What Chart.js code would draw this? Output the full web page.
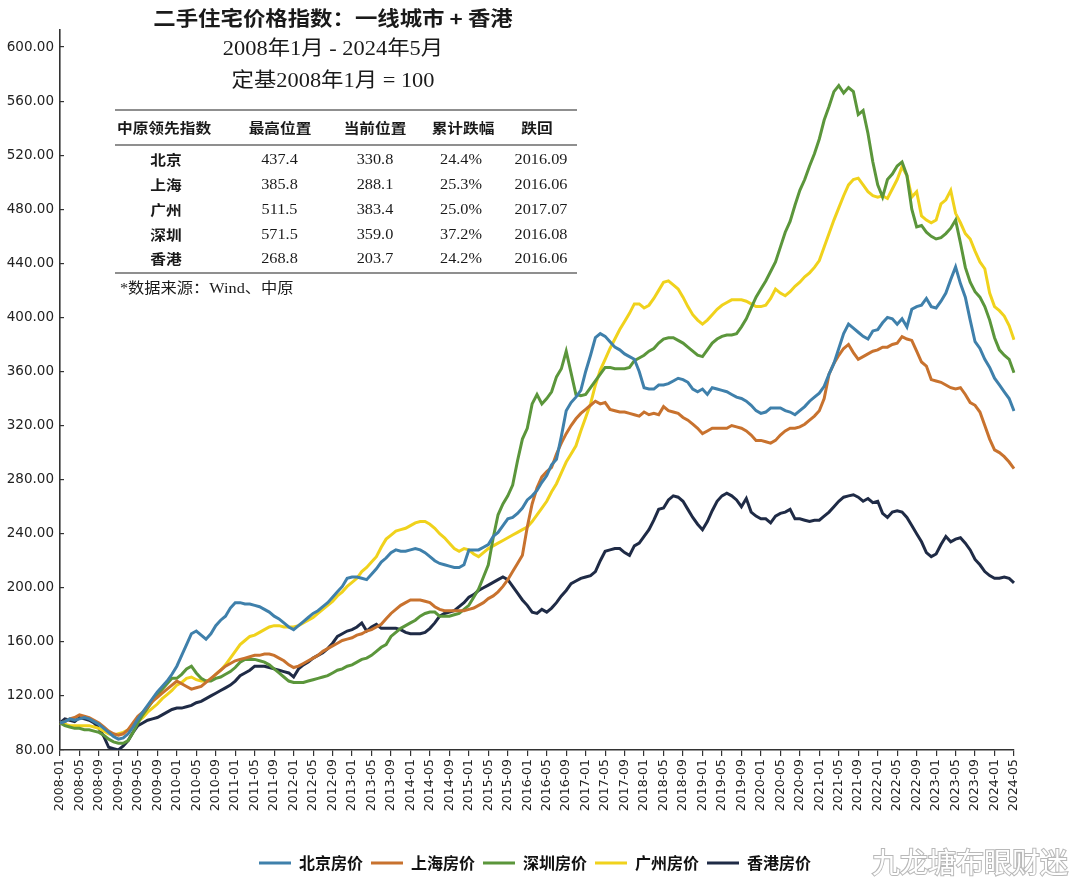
<!DOCTYPE html>
<html><head><meta charset="utf-8">
<script src="https://cdn.jsdelivr.net/npm/chart.js@4.4.1/dist/chart.umd.min.js"></script>
<style>html,body{margin:0;padding:0;background:#fff}#wrap{position:relative;width:1080px;height:885px}</style>
</head><body><div id="wrap"><canvas id="c" width="1080" height="885"></canvas></div>
<script>
// ---- categories (monthly, 2008-01 .. 2024-05) ----
const months = [];
for (let y = 2008; y <= 2024; y++) {
  for (let m = 1; m <= 12; m++) {
    if (y === 2024 && m > 5) break;
    months.push(y + '-' + String(m).padStart(2, '0'));
  }
}
const tickLabels = months.filter((_, i) => i % 4 === 0);
const yTicks = [80, 120, 160, 200, 240, 280, 320, 360, 400, 440, 480, 520, 560, 600];

// ---- series values ----
const beijing = [
100,101,103,102,103,104,103,101,99,96,93,90,
88,89,92,97,103,108,113,118,123,127,131,136,
142,150,158,166,168,165,162,166,172,176,179,185,
189,189,188,188,187,186,184,182,179,177,174,171,
169,172,175,178,181,183,186,189,193,197,201,207,
208,208,207,206,210,214,219,222,226,228,227,227,
228,229,228,226,223,220,218,217,216,215,215,217,
228,228,228,230,232,238,241,246,251,252,255,259,
265,268,272,278,283,291,295,312,331,337,341,346,
360,372,385,388,386,382,378,376,373,371,369,360,
348,347,347,350,350,351,353,355,354,352,347,345,
347,343,348,347,346,345,343,341,340,338,335,331,
329,330,333,333,333,331,330,328,331,334,338,341,
344,349,358,366,377,388,395,392,389,386,384,390,
391,396,400,399,395,399,393,406,408,409,414,408,
407,412,418,428,437.4,425,415,398,382,377,369,363,
355,350,345,340,330.8];
const shanghai = [
100,101,103,104,106,105,104,102,100,97,94,92,
91,92,95,100,105,108,112,116,119,122,125,128,
131,129,127,125,126,127,130,133,136,139,142,144,
146,147,148,149,150,150,151,151,150,148,146,143,
141,142,144,146,148,150,153,155,157,159,161,162,
163,165,166,168,169,171,173,177,181,184,187,189,
191,191,191,190,189,186,184,183,183,183,183,183,
184,185,187,189,192,194,197,201,206,212,218,224,
245,262,274,282,286,289,299,307,314,320,325,329,
332,335,338,336,337,332,331,330,330,329,328,327,
330,328,329,328,334,331,330,329,326,324,321,318,
314,316,318,318,318,318,320,319,318,316,313,309,
309,308,307,309,313,316,318,318,319,321,324,327,
331,340,358,366,372,377,380,374,369,371,373,375,
376,378,378,380,381,385.8,384,383,375,367,364,354,
353,352,350,348,347,348,343,337,335,330,320,310,
302,300,297,293,288.1];
const shenzhen = [
100,98,97,96,96,95,95,94,93,91,88,86,
85,85,87,93,100,106,111,116,121,125,129,133,
133,136,140,142,137,133,131,131,133,134,136,138,
141,145,147,147,147,146,145,143,140,137,134,131,
130,130,130,131,132,133,134,135,137,139,140,142,
143,145,147,148,150,153,156,158,164,167,170,172,
174,176,179,181,182,182,179,179,179,180,181,184,
187,193,199,208,217,237,254,262,268,276,294,310,
318,336,343,336,340,345,356,362,375,359,343,342,
343,348,353,358,363,363,362,362,362,363,368,370,
372,375,377,381,384,385,385,383,381,378,375,372,
371,376,381,384,386,387,387,388,393,399,407,415,
421,427,434,441,452,463,471,483,494,502,512,521,
532,546,556,567,571.5,566,570,567,550,553,536,515,
498,489,502,506,512,515,505,480,467,468,463,460,
458,459,462,466,472,455,437,426,419,415,408,398,
385,376,372,369,359];
const guangzhou = [
100,99,98,98,98,98,98,97,96,94,92,91,
92,93,95,98,101,104,108,111,114,118,121,124,
128,130,133,134,132,131,131,132,136,139,143,148,
153,158,161,164,165,167,169,171,172,172,171,171,
171,172,174,176,178,181,184,187,190,194,197,201,
204,207,212,215,219,223,230,236,239,242,243,244,
246,248,249,249,247,244,240,237,233,229,227,229,
228,225,223,226,229,231,233,235,237,239,241,243,
245,249,254,259,264,271,277,285,293,299,305,316,
326,336,350,361,369,377,384,391,397,403,410,410,
407,409,414,420,426,427,424,421,415,408,402,398,
395,398,402,406,409,411,413,413,413,412,410,408,
408,409,414,421,418,416,419,423,426,430,433,437,
442,452,462,472,481,490,498,502,503,498,493,490,
489,490,488,495,502,511.5,505,489,493,475,472,470,
472,484,487,494,477,470,462,458,449,441,436,418,
408,405,401,394,383.4];
const hongkong = [
100,103,102,101,104,103,102,100,96,90,82,81,
80,83,87,93,98,100,102,103,104,106,108,110,
111,111,112,113,115,116,118,120,122,124,126,128,
131,135,137,139,142,142,142,141,140,139,138,137,
134,140,143,145,148,150,152,155,159,164,166,168,
169,171,174,168,171,173,170,170,170,170,169,167,
166,166,166,167,170,174,179,181,182,183,186,189,
193,195,198,200,202,204,206,208,206,201,196,191,
187,182,181,184,182,185,189,194,198,203,205,207,
208,209,212,220,227,228,229,229,226,224,231,233,
238,243,250,258,259,265,268,267,264,258,252,247,
243,249,257,264,268,270,268,265,260,266,256,253,
251,251,248,253,255,256,258,251,251,250,249,250,
250,253,256,260,264,267,268,268.8,267,264,266,263,
264,255,252,256,257,256,252,246,240,234,226,223,
225,232,238,234,236,237,233,228,221,217,212,209,
207,207,208,207,203.7];

const seriesNames = ['北京房价', '上海房价', '深圳房价', '广州房价', '香港房价'];
const seriesColors = ['#3f80ab', '#c8722e', '#5b963b', '#f0d21c', '#1f2b46'];
const seriesData = [beijing, shanghai, shenzhen, guangzhou, hongkong];

// ---- title / table text ----
const titleLines = ['二手住宅价格指数：一线城市 + 香港', '2008年1月 - 2024年5月', '定基2008年1月 = 100'];
const tableHeader = ['中原领先指数', '最高位置', '当前位置', '累计跌幅', '跌回'];
const tableCities = ['北京', '上海', '广州', '深圳', '香港'];
const tablePeak = ['437.4', '385.8', '511.5', '571.5', '268.8'];
const tableNow = ['330.8', '288.1', '383.4', '359.0', '203.7'];
const tableDrop = ['24.4%', '25.3%', '25.0%', '37.2%', '24.2%'];
const tableBack = ['2016.09', '2016.06', '2017.07', '2016.08', '2016.06'];
const footnote = '*数据来源：Wind、中原';
const watermark = '九龙塘布眼财迷';

const SERIF = '"Liberation Serif", "Noto Sans CJK SC", serif';
function txt(ctx, s, x, y, font, align, sx, color) {
  ctx.save();
  ctx.font = font; ctx.textAlign = align; ctx.textBaseline = 'middle';
  ctx.fillStyle = color || '#1a1a1a';
  ctx.translate(x, y); ctx.scale(sx, 1); ctx.fillText(s, 0, 0);
  ctx.restore();
}
function rule(ctx, y) {
  ctx.save(); ctx.strokeStyle = '#6a6a6a'; ctx.lineWidth = 1.6;
  ctx.beginPath(); ctx.moveTo(115, y); ctx.lineTo(577, y); ctx.stroke(); ctx.restore();
}

const overlay = {
  id: 'overlay',
  afterLayout(chart) {
    // centre the legend row under the plot like the reference
    if (chart.legend) { chart.legend.left += 28; chart.legend.right += 28; }
  },
  afterDraw(chart) {
    const ctx = chart.ctx;
    const S = 1.12;
    txt(ctx, titleLines[0], 333, 18, 'bold 20px "Noto Sans CJK SC", sans-serif', 'center', S);
    txt(ctx, titleLines[1], 333, 50, '20px ' + SERIF, 'center', S);
    txt(ctx, titleLines[2], 333, 82, '20px ' + SERIF, 'center', S);
    rule(ctx, 110); rule(ctx, 145); rule(ctx, 273);
    const hf = 'bold 14px "Noto Sans CJK SC", sans-serif';
    txt(ctx, tableHeader[0], 117, 128, hf, 'left', S);
    txt(ctx, tableHeader[1], 280, 128, hf, 'center', S);
    txt(ctx, tableHeader[2], 375, 128, hf, 'center', S);
    txt(ctx, tableHeader[3], 463, 128, hf, 'center', S);
    txt(ctx, tableHeader[4], 537, 128, hf, 'center', S);
    const rowY = [160, 185, 210, 235, 259];
    const nf = '14.5px ' + SERIF;
    for (let i = 0; i < tableCities.length; i++) {
      const y = rowY[i];
      txt(ctx, tableCities[i], 166, y, 'bold 14px "Noto Sans CJK SC", sans-serif', 'center', S);
      txt(ctx, tablePeak[i], 279.5, y, nf, 'center', S);
      txt(ctx, tableNow[i], 375, y, nf, 'center', S);
      txt(ctx, tableDrop[i], 461, y, nf, 'center', S);
      txt(ctx, tableBack[i], 541, y, nf, 'center', S);
    }
    txt(ctx, footnote, 120, 289, '14.5px ' + SERIF, 'left', S);
    // watermark
    ctx.save();
    ctx.font = '28px "Noto Sans CJK SC", sans-serif';
    ctx.textAlign = 'left'; ctx.textBaseline = 'middle';
    ctx.lineWidth = 2; ctx.strokeStyle = '#b8b8b8'; ctx.fillStyle = '#ffffff';
    ctx.strokeText(watermark, 872, 862); ctx.fillText(watermark, 872, 862);
    ctx.restore();
  }
};

new Chart(document.getElementById('c').getContext('2d'), {
  type: 'line',
  data: {
    labels: months,
    datasets: seriesData.map((d, i) => ({
      label: seriesNames[i], data: d, borderColor: seriesColors[i], backgroundColor: seriesColors[i],
      borderWidth: 3, pointRadius: 0, tension: 0, fill: false
    }))
  },
  options: {
    responsive: false, animation: false,
    layout: { padding: { top: 30, right: 66, left: 0, bottom: 4 } },
    plugins: {
      tooltip: { enabled: false },
      legend: {
        position: 'bottom',
        labels: {
          usePointStyle: true, pointStyle: 'line', pointStyleWidth: 32,
          padding: 8, color: '#111',
          font: { family: '"Noto Sans CJK SC", sans-serif', size: 16, weight: 'bold' }
        }
      }
    },
    scales: {
      x: {
        type: 'category', offset: false,
        grid: { drawOnChartArea: false, drawTicks: true, tickLength: 6, color: '#333', lineWidth: 1.2 },
        border: { color: '#333', width: 1.6 },
        ticks: {
          autoSkip: false, minRotation: 90, maxRotation: 90, padding: 3, color: '#222',
          font: { family: '"DejaVu Sans", sans-serif', size: 12.5 },
          callback: (v, i) => (tickLabels.includes(months[i]) ? months[i] : null)
        },
        afterFit: s => { s.height = 97; }
      },
      y: {
        min: 80, max: 612.6,
        afterBuildTicks: s => { s.ticks = yTicks.map(v => ({ value: v })); },
        grid: { drawOnChartArea: false, drawTicks: true, tickLength: -4, color: '#333', lineWidth: 1.2 },
        border: { color: '#333', width: 1.6 },
        ticks: {
          padding: 10, color: '#222',
          font: { family: '"DejaVu Sans", sans-serif', size: 13.5 },
          callback: v => Number(v).toFixed(2)
        },
        afterFit: s => { s.width = 60; }
      }
    }
  },
  plugins: [overlay]
});
</script></body></html>
